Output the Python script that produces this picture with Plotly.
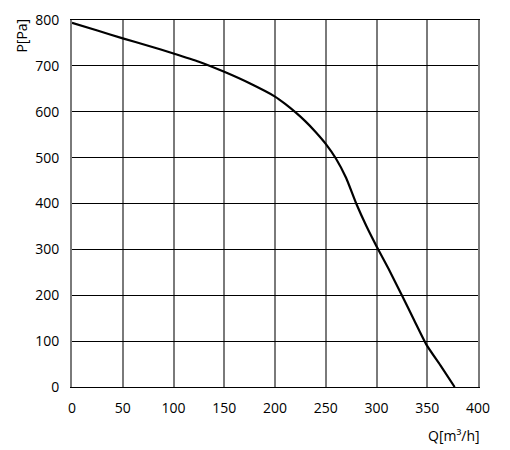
import plotly.graph_objects as go

# Fan curve: airflow Q [m3/h] vs pressure P [Pa]
q_values = [0, 25, 50, 75, 100, 125, 150, 175, 200, 210, 220, 230, 240, 250, 260, 270,
            280, 290, 300, 312, 325, 337, 349, 363, 377]
p_values = [794, 777, 760, 744, 727, 709, 687, 662, 633, 617, 599, 579, 556, 530, 498, 456,
            400, 351, 307, 257, 200, 146, 93, 47, 0]

x_ticks = [0, 50, 100, 150, 200, 250, 300, 350, 400]
y_ticks = [0, 100, 200, 300, 400, 500, 600, 700, 800]

fig = go.Figure()
fig.add_trace(go.Scatter(
    x=q_values, y=p_values, mode="lines",
    line=dict(color="black", width=2.2, shape="spline", smoothing=0.6),
    hoverinfo="skip", showlegend=False,
))

font = dict(family="Open Sans, sans-serif", size=14, color="black")

# page body has an 8px margin, so the figure is a bit smaller and shifted
fig.update_layout(
    width=502, height=442,
    margin=dict(l=64, r=32, t=12, b=63, autoexpand=False),
    paper_bgcolor="white", plot_bgcolor="white",
    font=font,
    xaxis=dict(
        range=[0, 400], tickvals=x_ticks, ticktext=[str(v) for v in x_ticks],
        showgrid=True, gridcolor="#7a7a7a", gridwidth=2,
        zeroline=False, showline=True, linecolor="black", linewidth=1, mirror=True,
        ticks="", ticklabelstandoff=8, fixedrange=True, automargin=False,
    ),
    yaxis=dict(
        range=[0, 800], tickvals=y_ticks, ticktext=[str(v) for v in y_ticks],
        showgrid=True, gridcolor="black", gridwidth=1,
        zeroline=False, showline=True, linecolor="#7a7a7a", linewidth=2, mirror=True,
        ticks="", ticklabelstandoff=8, fixedrange=True, automargin=False,
    ),
    annotations=[
        dict(text="P[Pa]", xref="paper", yref="paper", x=-0.125, y=1.01,
             xanchor="center", yanchor="top", textangle=-90, showarrow=False,
             font=font),
        dict(text="Q[m³/h]", xref="paper", yref="paper", x=1.01, y=-0.1,
             xanchor="right", yanchor="top", showarrow=False, font=font),
    ],
)

fig.write_html("out.html")
